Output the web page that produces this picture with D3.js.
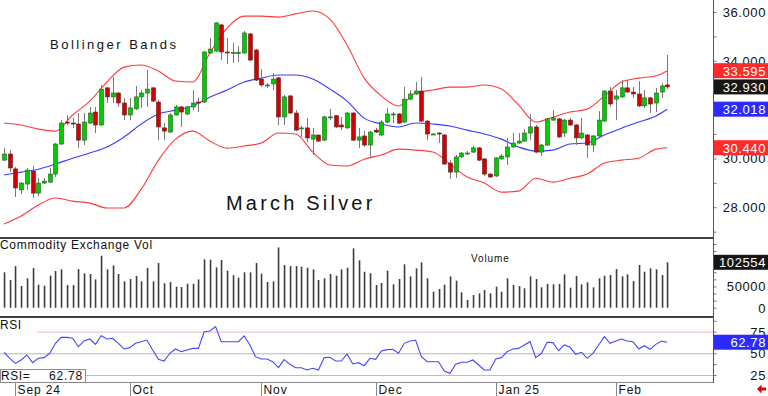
<!DOCTYPE html>
<html>
<head>
<meta charset="utf-8">
<title>March Silver</title>
<script src="https://cdn.jsdelivr.net/npm/d3@7"></script>
<style>
    body { margin: 0; background: #fff; }
    svg { display: block; }
    .lbl { font-family: "Liberation Sans", Arial, sans-serif; fill: #111; }
    .axisLbl { font-family: "Liberation Sans", Arial, sans-serif; font-size: 13px; letter-spacing: 0.6px; fill: #111; }
</style>
</head>
<body>
<script>
(function(){

    //pseudo-global data, one value per trading day (bar index 0..116)
    var opens = [29.93,30.18,29.57,28.71,28.95,29.48,28.58,28.99,29.03,29.36,
        30.59,31.49,31.45,31.41,30.75,31.45,31.90,31.37,32.89,32.52,
        32.68,32.27,31.78,32.03,32.52,32.68,32.89,32.31,31.25,31.08,
        31.78,32.11,31.82,32.11,32.31,32.31,34.32,34.40,35.47,34.36,
        34.32,34.30,34.32,35.10,34.44,33.25,32.99,33.05,33.30,31.70,
        32.56,31.86,31.23,31.25,30.79,30.96,30.75,31.66,31.75,31.37,
        31.25,31.86,30.75,30.92,30.55,31.16,30.96,31.49,31.80,31.82,
        31.49,32.43,32.64,32.76,31.53,30.98,31.04,30.96,29.81,29.44,
        30.06,30.20,30.26,30.43,29.98,29.36,29.28,29.98,30.06,30.47,
        30.63,30.71,31.04,31.29,30.26,30.55,31.57,31.62,31.04,31.57,
        31.37,30.84,30.96,30.55,30.92,31.53,32.76,32.43,32.52,32.89,
        32.72,32.64,32.15,32.48,32.27,32.72,33.01];
    var highs = [30.43,30.34,29.65,29.03,29.61,29.69,29.20,29.20,29.61,30.63,
        31.57,31.78,31.66,31.86,31.86,32.11,32.11,33.01,32.93,33.34,
        32.72,32.48,32.48,32.97,32.80,33.62,32.93,32.39,31.45,31.86,
        32.19,32.15,32.15,32.80,32.48,34.40,34.93,35.59,35.51,34.93,
        34.73,34.60,35.22,35.14,34.48,33.66,33.09,33.50,33.34,32.60,
        32.60,31.98,31.33,31.66,31.25,30.96,31.75,32.03,31.78,31.70,
        31.90,31.90,31.25,31.12,31.12,31.25,31.57,32.07,31.90,31.86,
        32.93,32.80,33.13,33.34,31.57,31.04,31.08,31.00,29.93,30.14,
        30.26,30.30,30.51,30.47,30.02,29.40,30.06,30.18,30.84,31.04,
        31.04,31.21,31.82,31.37,30.59,31.66,31.98,31.66,31.62,31.66,
        31.41,31.66,31.00,30.96,31.94,32.80,32.93,32.80,33.21,33.21,
        32.93,33.17,32.80,32.52,32.89,33.09,34.24];
    var lows = [29.90,29.44,28.42,28.54,28.71,28.38,28.46,28.95,28.99,29.24,
        30.55,31.37,31.25,30.43,30.55,31.41,31.04,31.33,32.27,32.27,
        32.11,31.57,31.57,31.98,32.07,32.11,32.31,30.75,30.75,31.04,
        31.75,31.29,31.78,31.98,31.90,32.27,34.28,34.36,34.03,33.87,
        33.91,33.95,34.28,33.99,33.17,32.93,32.89,32.80,31.37,31.37,
        31.82,31.12,30.88,30.67,30.14,30.67,30.71,31.57,31.25,31.16,
        31.21,30.71,30.43,30.47,30.06,31.04,30.92,31.45,31.45,31.41,
        31.45,32.39,32.60,31.49,30.75,30.96,30.63,29.73,29.16,29.20,
        30.02,30.14,30.22,29.89,29.28,29.20,29.24,29.93,29.73,30.43,
        30.59,30.67,30.75,30.22,30.10,30.51,31.53,30.84,30.88,31.33,
        30.55,30.79,30.02,30.26,30.88,31.49,32.11,31.57,32.48,32.68,
        32.48,32.11,32.07,31.86,31.90,32.48,32.84];
    var closes = [30.18,29.61,28.79,28.99,29.52,28.58,28.99,29.07,29.36,30.59,
        31.45,31.45,31.41,30.75,31.49,31.86,31.37,32.84,32.52,32.68,
        32.27,31.78,32.07,32.52,32.68,32.84,32.35,31.29,31.12,31.78,
        32.11,31.90,32.11,32.27,32.27,34.36,34.48,35.55,34.36,34.32,
        34.34,34.35,35.14,34.03,33.21,33.01,33.01,33.25,31.70,32.52,
        31.86,31.16,31.25,30.84,30.96,30.71,31.70,31.70,31.29,31.29,
        31.86,30.75,30.88,30.55,31.08,31.08,31.49,31.82,31.82,31.45,
        32.43,32.64,32.76,31.53,31.00,31.00,31.00,29.77,29.44,30.06,
        30.22,30.22,30.43,29.93,29.36,29.24,30.02,30.10,30.47,30.63,
        30.71,31.04,31.29,30.26,30.55,31.62,31.66,30.88,31.57,31.37,
        30.84,31.04,30.55,30.92,31.57,32.76,32.23,32.56,32.89,32.72,
        32.64,32.15,32.48,32.23,32.68,32.97,32.93];
    var volumes = [79800,62500,94100,49000,66300,89600,52000,49700,72300,82800,
        86600,51200,51200,87300,77600,76100,64000,117400,86600,95600,
        76100,59500,64800,71600,59500,89600,59500,100900,55000,58000,
        47500,46700,54200,54200,64000,109200,108400,91100,107700,83600,
        73100,67800,79800,79800,100900,76800,58000,59500,136200,96400,
        94100,94100,92600,90400,86600,62500,66300,76100,72300,86600,
        90400,134000,106900,81300,77600,51200,55800,83600,52700,64800,
        97900,70800,88900,102400,66300,36200,42200,52000,70800,61000,
        34700,17400,28700,32400,40000,32400,47500,36200,66300,51200,
        49000,43700,70800,64800,46000,53500,52700,53500,75300,45200,
        71600,52700,57300,46000,66300,72300,73800,87300,70800,75300,
        60300,96400,81300,88900,86600,73800,102554];
    var rsiValues = [51.1,44.2,38.4,42.3,48.0,39.2,44.2,45.0,50.0,61.5,
        68.4,68.4,67.3,57.6,64.2,66.5,60.3,70.3,66.5,67.3,
        61.5,55.0,56.5,61.5,63.4,65.3,53.8,43.0,41.1,50.0,
        55.0,51.9,53.8,55.7,55.7,74.9,75.7,80.7,63.4,63.4,
        63.4,63.4,70.0,59.6,46.1,43.4,43.4,40.3,33.4,42.7,
        37.3,33.4,33.4,30.7,32.7,30.7,45.0,45.4,41.1,41.1,
        49.2,37.7,39.2,35.7,44.2,43.0,52.7,54.2,54.6,50.0,
        61.5,64.2,65.0,46.1,40.3,40.3,40.3,29.6,26.9,37.3,
        39.6,39.6,42.3,36.5,30.7,30.7,43.4,45.0,51.9,55.0,
        55.7,59.6,63.4,45.0,50.0,62.7,62.3,53.0,59.6,56.9,
        48.8,51.1,44.2,50.0,59.6,69.2,61.5,64.2,66.5,64.2,
        63.4,55.0,58.8,54.6,60.3,64.2,62.78];

    //bollinger bands, read every third bar
    var bandBars = [0,3,6,9,12,15,18,21,24,27,30,33,36,39,42,45,48,51,54,57,
        60,63,66,69,72,75,78,81,84,87,90,93,96,99,102,105,108,111,114,116];
    var upperBand = [31.45,31.37,31.20,31.12,31.78,32.35,33.13,33.74,33.83,33.58,
        33.17,33.13,34.32,35.34,35.83,35.83,35.79,35.92,36.04,35.71,
        34.65,33.29,32.56,32.15,32.68,32.80,32.92,32.92,33.01,32.84,
        32.19,31.49,31.69,31.90,32.02,32.56,33.13,33.29,33.38,33.595];
    var midBand = [29.32,29.44,29.56,29.77,30.01,30.22,30.47,30.88,31.41,31.82,
        31.98,32.15,32.51,32.80,33.13,33.29,33.42,33.42,33.25,32.84,
        32.35,31.65,31.41,31.29,31.45,31.41,31.33,31.16,31.00,30.79,
        30.47,30.30,30.34,30.59,30.63,30.96,31.24,31.49,31.74,32.018];
    var lowerBand = [27.31,27.64,28.09,28.38,28.25,28.17,27.97,27.97,28.74,29.93,
        30.79,31.12,30.71,30.42,30.51,30.63,31.04,31.00,30.26,29.73,
        29.69,29.97,30.14,30.38,30.34,30.26,29.77,29.24,28.99,28.62,
        28.66,29.19,29.03,29.19,29.36,29.81,29.93,30.01,30.38,30.44];

    //axis labels
    var priceTicks = [28, 30, 34, 36];
    var volTicks = [0, 50000];
    var rsiTicks = [25, 50, 75];
    var monthLabels = ["Sep 24", "Oct", "Nov", "Dec", "Jan 25", "Feb"];
    var monthBars = [2, 22, 45, 65, 86, 107];

    //frame
    var width = 768, height = 396, plotRight = 713;

window.onload = setChart;

function setChart(){

    var svg = d3.select("body")
        .append("svg")
        .attr("width", width)
        .attr("height", height);

    //bar index scale shared by all panels
    var x = d3.scaleLinear()
        .domain([-0.7, 124])
        .range([0, plotRight]);

    var yPrice = d3.scaleLinear().domain([26.74, 36.49]).range([238, 0]);
    var yVol = d3.scaleLinear().domain([0, 157450]).range([307.7, 238]);
    var yRsi = d3.scaleLinear().domain([16.9, 90.7]).range([382, 318]);

    svg.append("clipPath").attr("id", "plotClip")
        .append("rect").attr("x", 0).attr("y", 0).attr("width", plotRight).attr("height", 238);

    //build bar objects from the arrays
    var bars = closes.map(function(c, i){
        return {i: i, o: opens[i], h: highs[i], l: lows[i], c: c, v: volumes[i], rsi: rsiValues[i]};
    });

    drawBands(svg, x, yPrice);
    drawCandles(svg, x, yPrice, bars);
    drawVolume(svg, x, yVol, bars);
    drawRsi(svg, x, yRsi, bars);
    drawFrame(svg, x, yPrice, yVol, yRsi, bars);
};

function drawBands(svg, x, yPrice){
    var g = svg.append("g").attr("clip-path", "url(#plotClip)");

    [[upperBand, "#ff3b3b"], [midBand, "#3b3bff"], [lowerBand, "#ff3b3b"]].forEach(function(b){
        var line = d3.line()
            .x(function(d, k){ return x(bandBars[k]); })
            .y(function(d){ return yPrice(d); })
            .curve(d3.curveMonotoneX);
        g.append("path")
            .datum(b[0])
            .attr("d", line)
            .attr("fill", "none")
            .attr("stroke", b[1])
            .attr("stroke-width", 1.1);
    });

    //chart titles
    svg.append("text").attr("class", "lbl")
        .attr("x", 50).attr("y", 49)
        .style("font-size", "13px").style("letter-spacing", "2.5px")
        .text("Bollinger Bands");
    svg.append("text").attr("class", "lbl")
        .attr("x", 226).attr("y", 210)
        .style("font-size", "20px").style("letter-spacing", "3.2px")
        .text("March Silver");
};

function drawCandles(svg, x, yPrice, bars){
    var g = svg.append("g").attr("clip-path", "url(#plotClip)");

    //wicks
    g.selectAll(".wick")
        .data(bars)
        .enter()
        .append("line")
        .attr("class", "wick")
        .attr("x1", function(d){ return Math.round(x(d.i)) + 0.5; })
        .attr("x2", function(d){ return Math.round(x(d.i)) + 0.5; })
        .attr("y1", function(d){ return yPrice(d.h); })
        .attr("y2", function(d){ return yPrice(d.l); })
        .attr("stroke", "#7a7a7a")
        .attr("stroke-width", 1);

    //bodies
    g.selectAll(".body")
        .data(bars)
        .enter()
        .append("rect")
        .attr("class", "body")
        .attr("x", function(d){ return Math.round(x(d.i)) - 1.5; })
        .attr("width", 4)
        .attr("y", function(d){ return yPrice(Math.max(d.o, d.c)); })
        .attr("height", function(d){ return Math.max(1, Math.abs(yPrice(d.o) - yPrice(d.c))); })
        .attr("fill", function(d){ return d.c >= d.o ? "#00cc00" : "#d40000"; })
        .attr("stroke", function(d){ return d.c >= d.o ? "#1f5f1f" : "#5f1f1f"; })
        .attr("stroke-width", 0.6);
};

function drawVolume(svg, x, yVol, bars){
    svg.selectAll(".vol")
        .data(bars)
        .enter()
        .append("rect")
        .attr("class", "vol")
        .attr("x", function(d){ return Math.round(x(d.i)) - 0.25; })
        .attr("width", 1.6)
        .attr("y", function(d){ return yVol(d.v); })
        .attr("height", function(d){ return yVol(0) - yVol(d.v); })
        .attr("fill", "#3c3c3c");

    svg.append("text").attr("class", "lbl")
        .attr("x", 0).attr("y", 249)
        .style("font-size", "12px").style("letter-spacing", "0.7px")
        .text("Commodity Exchange Vol");
    svg.append("text").attr("class", "lbl")
        .attr("x", 471).attr("y", 262)
        .style("font-size", "10px").style("letter-spacing", "0.9px")
        .text("Volume");
};

function drawRsi(svg, x, yRsi, bars){
    //reference levels
    [[75, "#f2b8b8"], [50, "#b4b4b4"], [25, "#b8b8f2"]].forEach(function(r){
        svg.append("line")
            .attr("x1", 0).attr("x2", plotRight)
            .attr("y1", yRsi(r[0]) + 0.5).attr("y2", yRsi(r[0]) + 0.5)
            .attr("stroke", r[1]).attr("stroke-width", 1);
    });

    var line = d3.line()
        .x(function(d){ return x(d.i); })
        .y(function(d){ return yRsi(d.rsi); });

    svg.append("path")
        .datum(bars)
        .attr("d", line)
        .attr("fill", "none")
        .attr("stroke", "#4646ff")
        .attr("stroke-width", 1.1);

    //panel label
    svg.append("rect").attr("x", 0).attr("y", 319).attr("width", 37).attr("height", 15).attr("fill", "#fff");
    svg.append("text").attr("class", "lbl")
        .attr("x", 0).attr("y", 329)
        .style("font-size", "12px").style("letter-spacing", "0.5px")
        .text("RSI");

    //current value box
    var last = bars[bars.length - 1];
    svg.append("rect")
        .attr("x", 0.5).attr("y", 369.5).attr("width", 85).attr("height", 13)
        .attr("fill", "#fff").attr("stroke", "#8c8c8c");
    svg.append("text").attr("class", "lbl")
        .attr("x", 1).attr("y", 380)
        .style("font-size", "12px").style("letter-spacing", "0.6px")
        .text("RSI=");
    svg.append("text").attr("class", "lbl")
        .attr("x", 83).attr("y", 380)
        .attr("text-anchor", "end")
        .style("font-size", "12px").style("letter-spacing", "0.8px")
        .text(d3.format(".2f")(last.rsi));
};

function drawFrame(svg, x, yPrice, yVol, yRsi, bars){
    var last = bars[bars.length - 1];

    //panel separators
    [[238, "#000", 1.6], [317, "#000", 1.6], [382.5, "#888", 1]].forEach(function(s){
        svg.append("line")
            .attr("x1", 0).attr("x2", plotRight)
            .attr("y1", s[0]).attr("y2", s[0])
            .attr("stroke", s[1]).attr("stroke-width", s[2]);
    });

    //right axis line
    svg.append("line")
        .attr("x1", plotRight + 0.5).attr("x2", plotRight + 0.5)
        .attr("y1", 0).attr("y2", 383)
        .attr("stroke", "#555").attr("stroke-width", 1);

    //minor ticks on right axis
    var priceAxis = d3.axisRight(yPrice).tickValues(d3.range(27, 37, 1)).tickSize(3).tickFormat("");
    var volAxis = d3.axisRight(yVol).tickValues(d3.range(0, 160000, 16000)).tickSize(3).tickFormat("");
    var rsiAxis = d3.axisRight(yRsi).tickValues(d3.range(25, 91, 12.5)).tickSize(3).tickFormat("");
    [priceAxis, volAxis, rsiAxis].forEach(function(ax){
        var g = svg.append("g")
            .attr("transform", "translate(" + (plotRight + 0.5) + ",0)")
            .call(ax);
        g.select(".domain").remove();
        g.selectAll(".tick line").attr("stroke", "#777");
    });

    //axis labels, right aligned
    function axisLabels(values, scale, fmt){
        svg.selectAll(null)
            .data(values)
            .enter()
            .append("text")
            .attr("class", "axisLbl")
            .attr("x", 766)
            .attr("y", function(d){ return scale(d) + 5; })
            .attr("text-anchor", "end")
            .text(fmt);
    };
    axisLabels(priceTicks, yPrice, d3.format(".3f"));
    axisLabels(volTicks, yVol, d3.format("d"));
    axisLabels(rsiTicks, yRsi, d3.format("d"));

    //value tags
    var tags = [
        [upperBand[upperBand.length - 1], yPrice, "#ff2b2b", d3.format(".3f")],
        [last.c, yPrice, "#161616", d3.format(".3f")],
        [midBand[midBand.length - 1], yPrice, "#2b2bff", d3.format(".3f")],
        [lowerBand[lowerBand.length - 1], yPrice, "#ff2b2b", d3.format(".3f")],
        [last.v, yVol, "#161616", d3.format("d")],
        [last.rsi, yRsi, "#2b2bff", d3.format(".2f")]
    ];
    tags.forEach(function(t){
        var yy = t[1](t[0]);
        svg.append("rect")
            .attr("x", plotRight + 1).attr("y", yy - 7.5)
            .attr("width", width - plotRight - 1).attr("height", 15)
            .attr("fill", t[2]);
        svg.append("text")
            .attr("class", "axisLbl")
            .attr("x", 766).attr("y", yy + 5)
            .attr("text-anchor", "end")
            .style("fill", "#fff")
            .text(t[3](t[0]));
    });

    //month ticks along the bottom
    var months = svg.selectAll(".month")
        .data(monthLabels)
        .enter()
        .append("g")
        .attr("class", "month")
        .attr("transform", function(d, k){ return "translate(" + (Math.round(x(monthBars[k])) + 0.5) + ",0)"; });
    months.append("line")
        .attr("y1", 383).attr("y2", 396)
        .attr("stroke", "#888");
    months.append("text")
        .attr("class", "lbl")
        .attr("x", 2).attr("y", 394)
        .style("font-size", "12px").style("letter-spacing", "0.9px")
        .text(function(d){ return d; });

    //little red arrow in the corner
    svg.append("path")
        .attr("d", "M757,389 L761.5,384.5 L761.5,387.5 L766,387.5 L766,390.5 L761.5,390.5 L761.5,393.5 Z")
        .attr("fill", "#e00000");
};

})();
</script>
</body>
</html>
